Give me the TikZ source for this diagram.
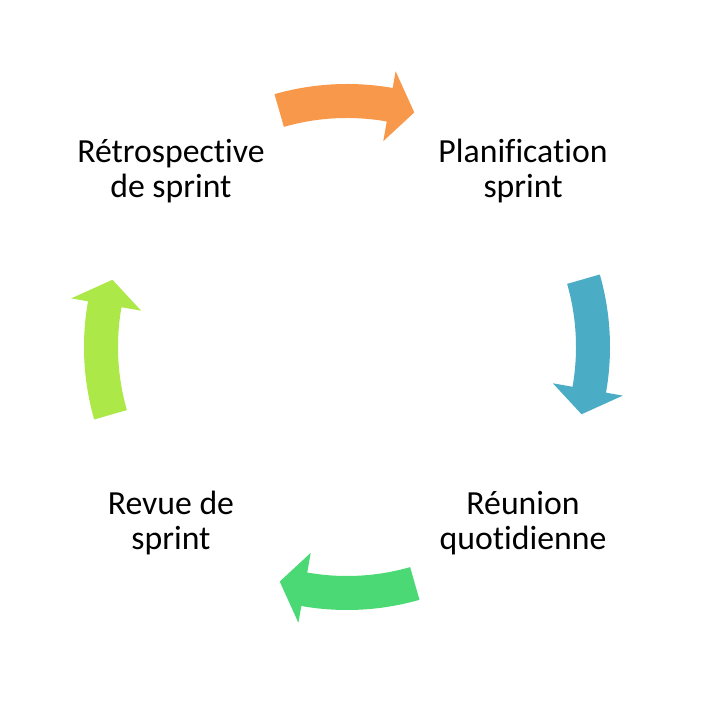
\documentclass[tikz,border=0pt]{standalone}
\usepackage{fontspec}
\setmainfont{Carlito}[Ligatures=NoCommon]
\definecolor{arrOrange}{RGB}{247,152,74}
\definecolor{arrBlue}{RGB}{75,172,198}
\definecolor{arrGreen}{RGB}{74,217,116}
\definecolor{arrLime}{RGB}{172,232,72}
\begin{document}
\begin{tikzpicture}[scale=0.02]
			\tikzstyle{every node}+=[inner sep=0pt, align=center, font=\fontsize{19.2}{19.6}\selectfont]
			\useasboundingbox (-347,-364) rectangle (354,347);
			\node (plan) at (45:249) {Planification\\sprint};
			\node (reunion) at (-45:249) {Réunion\\quotidienne};
			\node (revue) at (-135:249) {Revue de\\sprint};
			\node (retro) at (135:249) {Rétrospective\\de sprint};
			\fill [arrOrange] (106:229) arc (106:80:229) -- (80:209) -- (74:244) -- (80:280) -- (80:263) arc (80:106:263) -- cycle;
			\fill [arrBlue] (16:229) arc (16:-10:229) -- (-10:209) -- (-16:244) -- (-10:280) -- (-10:263) arc (-10:16:263) -- cycle;
			\fill [arrGreen] (286:229) arc (286:260:229) -- (260:209) -- (254:244) -- (260:280) -- (260:263) arc (260:286:263) -- cycle;
			\fill [arrLime] (196:229) arc (196:170:229) -- (170:209) -- (164:244) -- (170:280) -- (170:263) arc (170:196:263) -- cycle;
		\end{tikzpicture}
\end{document}
